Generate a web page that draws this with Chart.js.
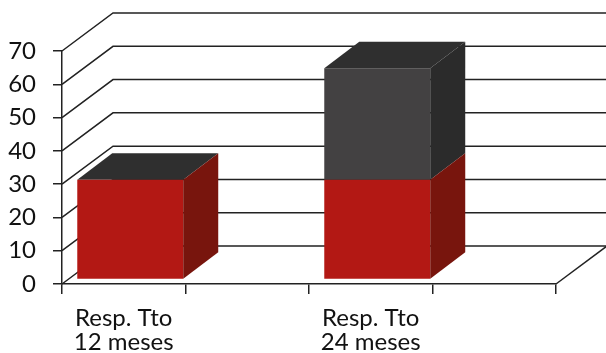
<!DOCTYPE html>
<html>
<head>
<meta charset="utf-8">
<style>
  html, body { margin: 0; padding: 0; background: #fff; }
  canvas { display: block; }
</style>
<script src="https://cdn.jsdelivr.net/npm/chart.js@4/dist/chart.umd.min.js"></script>
</head>
<body>
<canvas id="chart" width="606" height="353"></canvas>
<script>
const categories = [['Resp. Tto', '12 meses'], '', ['Resp. Tto', '24 meses'], ''];
const redValues = [30, null, 30, null];
const darkValues = [0, null, 33.5, null];

const FONT = 'Lato, "Open Sans", sans-serif';

// Depth of the floor/walls and of the boxes standing on it
const WALL_DX = 51, WALL_DY = -38;
const BOX_DX = 35, BOX_DY = -26.5;
const BOX_SHIFT_X = 6.5, BOX_SHIFT_Y = -4.5;

const faceColors = [
  { side: '#78150d', top: '#2f2f2f' },
  { side: '#2b2b2b', top: '#2f2f2f' }
];

function poly(ctx, color, points) {
  ctx.fillStyle = color;
  ctx.beginPath();
  points.forEach((p, i) => i ? ctx.lineTo(p[0], p[1]) : ctx.moveTo(p[0], p[1]));
  ctx.closePath();
  ctx.fill();
}

const fake3d = {
  id: 'fake3d',

  // Slanted side wall, back wall grid and floor edge
  beforeDatasetsDraw(chart) {
    const { ctx, scales: { x, y } } = chart;
    const ticks = y.ticks.map(t => y.getPixelForValue(t.value));
    ctx.save();
    ctx.strokeStyle = '#222';
    ctx.lineWidth = 1.5;
    ticks.forEach(py => {
      ctx.beginPath();
      ctx.moveTo(x.left, py);
      ctx.lineTo(x.left + WALL_DX, py + WALL_DY);
      ctx.lineTo(chart.width, py + WALL_DY);
      ctx.stroke();
    });
    ctx.beginPath();
    ctx.moveTo(x.right, y.bottom);
    ctx.lineTo(x.right + WALL_DX, y.bottom + WALL_DY);
    ctx.stroke();
    ctx.restore();
  },

  // Front faces come from the normal bar elements, shifted off the axis plane
  beforeDatasetDraw(chart) {
    chart.ctx.save();
    chart.ctx.translate(BOX_SHIFT_X, BOX_SHIFT_Y);
  },

  afterDatasetDraw(chart, args) {
    const ctx = chart.ctx;
    const values = chart.data.datasets[args.index].data;
    const topmost = args.index === chart.data.datasets.length - 1;
    args.meta.data.forEach((bar, i) => {
      if (values[i] === null) return;
      const l = bar.x - bar.width / 2, r = bar.x + bar.width / 2;
      poly(ctx, faceColors[args.index].side, [
        [r, bar.base], [r + BOX_DX, bar.base + BOX_DY],
        [r + BOX_DX, bar.y + BOX_DY], [r, bar.y]
      ]);
      if (topmost) {
        poly(ctx, faceColors[args.index].top, [
          [l, bar.y], [r, bar.y],
          [r + BOX_DX, bar.y + BOX_DY], [l + BOX_DX, bar.y + BOX_DY]
        ]);
      }
    });
    ctx.restore();
  }
};

new Chart(document.getElementById('chart'), {
  type: 'bar',
  data: {
    labels: categories,
    datasets: [
      { data: redValues, backgroundColor: '#b31814', clip: false },
      { data: darkValues, backgroundColor: '#434142', clip: false }
    ]
  },
  options: {
    responsive: false,
    animation: false,
    categoryPercentage: 1,
    barPercentage: 0.858,
    layout: { padding: { top: 51, right: 50, left: 0, bottom: 0 } },
    plugins: { legend: { display: false }, tooltip: { enabled: false } },
    scales: {
      x: {
        stacked: true,
        afterFit(scale) { scale.height = 69; },
        grid: { drawOnChartArea: false, color: '#222', lineWidth: 1.5, tickLength: 10 },
        border: { color: '#222', width: 1.5 },
        ticks: {
          color: '#111',
          maxRotation: 0,
          autoSkip: false,
          padding: 13,
          font: { family: FONT, size: 24, lineHeight: 0.98 }
        }
      },
      y: {
        stacked: true,
        min: 0,
        max: 70,
        afterFit(scale) { scale.width = 62; },
        grid: { drawOnChartArea: false, color: '#222', lineWidth: 1.5, tickLength: 9 },
        border: { color: '#222', width: 1.5 },
        ticks: {
          stepSize: 10,
          color: '#111',
          padding: 17,
          font: { family: FONT, size: 24 }
        }
      }
    }
  },
  plugins: [fake3d]
});
</script>
</body>
</html>
